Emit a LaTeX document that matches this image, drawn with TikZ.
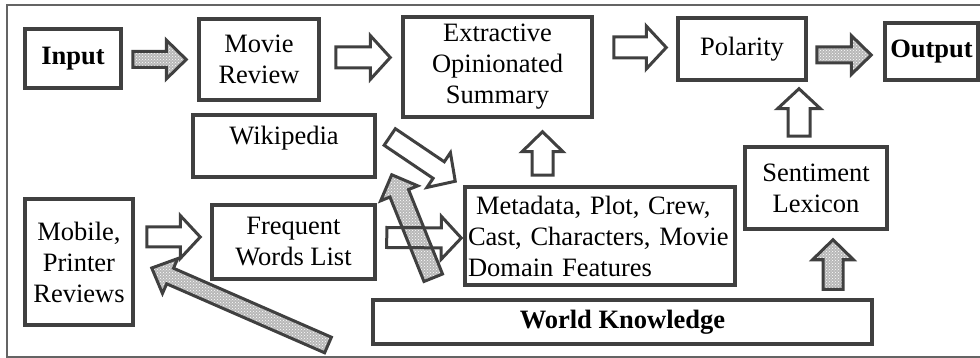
\documentclass[tikz,border=0pt]{standalone}
\usepackage{fontspec}
\setmainfont{Liberation Serif}
\usetikzlibrary{calc,patterns}
\definecolor{boxgray}{RGB}{64,64,64}
\definecolor{framegray}{RGB}{100,100,100}
% block arrow: style, shaft half width, head half width, tail, tip
\newcommand{\blockarrow}[5]{%
  \coordinate (ba-t) at (#4);
  \coordinate (ba-p) at (#5);
  \coordinate (ba-h) at ($(ba-p)!20pt!(ba-t)$);
  \draw[#1] ($(ba-t)!#2!90:(ba-p)$) -- ($(ba-h)!#2!90:(ba-p)$) -- ($(ba-h)!#3!90:(ba-p)$) -- (ba-p)
    -- ($(ba-h)!#3!-90:(ba-p)$) -- ($(ba-h)!#2!-90:(ba-p)$) -- ($(ba-t)!#2!-90:(ba-p)$) -- cycle;}
\tikzset{
  box/.style={draw=boxgray, line width=3.5pt, inner sep=0pt, align=center,
    font=\fontsize{26.5}{31}\selectfont},
  hollow/.style={draw=boxgray, line width=3pt, fill=white, line join=miter},
  hatched/.style={draw=boxgray, line width=3pt, line join=miter,
    preaction={fill=black!28}, preaction={pattern=crosshatch dots, pattern color=white}},
}
\begin{document}
\begin{tikzpicture}[x=1pt, y=-1pt]
  \useasboundingbox (0,0) rectangle (980,358);
  \draw[framegray, line width=2pt] (7,5) rectangle (986,357);

  % top row
  \node[box, minimum width=96pt, minimum height=59pt] (input) at (73,58.5) {\textbf{Input}};
  \node[box, minimum width=120pt, minimum height=81pt] (movie) at (259,59.5) {Movie\\Review};
  \node[box, minimum width=189pt, minimum height=100pt] (summary) at (497.5,67) {Extractive\\Opinionated\\Summary};
  \node[box, minimum width=128pt, minimum height=62pt] (polarity) at (742,49) {Polarity};
  \node[box, minimum width=93pt, minimum height=57pt] (output) at (931.5,51.5) {\textbf{Output}};

  % lower part
  \node[box, minimum width=182pt, text height=19pt, text depth=22pt, inner ysep=10.5pt] (wiki) at (284,146) {Wikipedia};
  \node[box, minimum width=108pt, minimum height=126pt] (mobile) at (79,262) {Mobile,\\Printer\\Reviews};
  \node[box, minimum width=163pt, minimum height=74pt] (freq) at (293.5,242) {Frequent\\Words List};
  \node[box, align=left, text width=264pt, inner xsep=3pt, minimum height=98pt] (meta) at (600,236)
    {\hspace*{8pt}Metadata, Plot, Crew,\\Cast, Characters, Movie\\Domain Features};
  \node[box, minimum width=142pt, minimum height=82pt] (senti) at (816,188) {Sentiment\\Lexicon};
  \node[box, minimum width=499pt, minimum height=44pt] (wk) at (622.5,322) {\textbf{World Knowledge}};
  \coordinate (ext) at (328,345);

  % arrows
  \blockarrow{hollow}{10.5pt}{22pt}{$(movie.east)+(15,-2)$}{$(summary.west)+(-11,-9.5)$}
  \blockarrow{hollow}{10.5pt}{21.5pt}{$(summary.east)+(20,-19.5)$}{$(polarity.west)+(-10,-1.5)$}
  \blockarrow{hollow}{11pt}{21.5pt}{$(senti.north)+(-17,-9)$}{$(polarity.south)+(57,7)$}
  \blockarrow{hollow}{10.5pt}{20.5pt}{$(meta.north)+(-57.5,-10)$}{$(summary.south)+(45,13)$}
  \blockarrow{hollow}{10pt}{21.5pt}{$(mobile.east)+(12,-25)$}{$(freq.west)+(-10,-5)$}
  \blockarrow{hollow}{10pt}{21pt}{$(wiki.east)+(13,-9)$}{$(meta.north west)+(-8,-4)$}
  \blockarrow{hatched}{8pt}{19.5pt}{$(input.east)+(10,1)$}{$(movie.west)+(-11,0)$}
  \blockarrow{hatched}{8pt}{19.5pt}{$(polarity.east)+(9,6)$}{$(output.west)+(-12,3.5)$}
  \blockarrow{hatched}{10pt}{20.5pt}{$(wk.north)+(210.5,-9)$}{$(senti.south)+(17,9)$}
  \blockarrow{hatched}{10pt}{20pt}{$(meta.south west)+(-30,-9)$}{$(wiki.south east)+(15,-4)$}
  \blockarrow{hatched}{8.5pt}{19pt}{ext}{$(mobile.east)+(17,6)$}
  \blockarrow{hollow, fill=none}{10pt}{21.5pt}{$(freq.east)+(10,-4.5)$}{$(meta.west)+(-2,2)$}
\end{tikzpicture}
\end{document}
